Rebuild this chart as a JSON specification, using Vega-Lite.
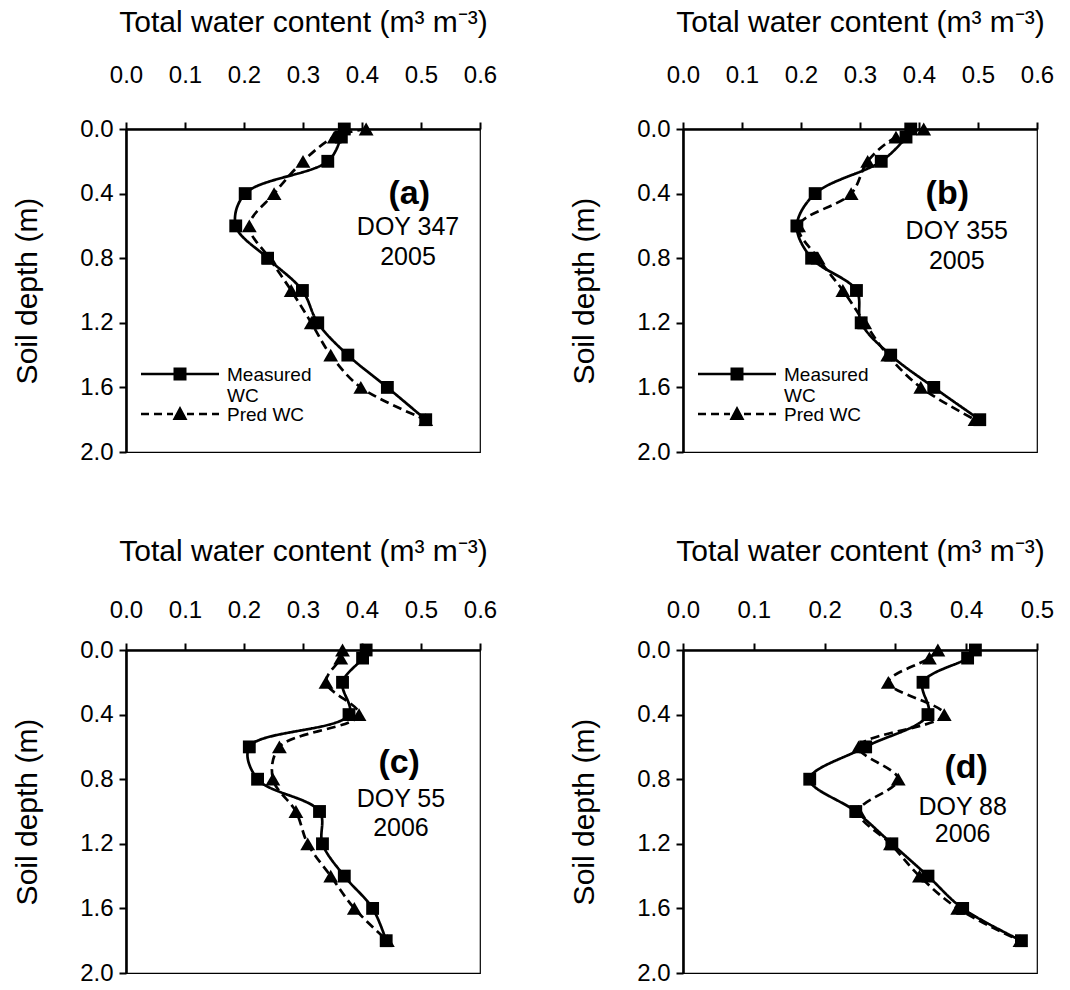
{
  "$schema": "https://vega.github.io/schema/vega-lite/v6.json",
  "background": "white",
  "padding": {"left": 12, "top": 6, "right": 0, "bottom": 0},
  "datasets": {
    "wc": [
      {"panel": "a", "series": "Measured WC", "depth": 0.0, "wc": 0.37},
      {"panel": "a", "series": "Measured WC", "depth": 0.05, "wc": 0.365},
      {"panel": "a", "series": "Measured WC", "depth": 0.2, "wc": 0.342},
      {"panel": "a", "series": "Measured WC", "depth": 0.4, "wc": 0.202},
      {"panel": "a", "series": "Measured WC", "depth": 0.6, "wc": 0.186},
      {"panel": "a", "series": "Measured WC", "depth": 0.8, "wc": 0.24},
      {"panel": "a", "series": "Measured WC", "depth": 1.0, "wc": 0.299},
      {"panel": "a", "series": "Measured WC", "depth": 1.2, "wc": 0.325},
      {"panel": "a", "series": "Measured WC", "depth": 1.4, "wc": 0.376},
      {"panel": "a", "series": "Measured WC", "depth": 1.6, "wc": 0.443},
      {"panel": "a", "series": "Measured WC", "depth": 1.8, "wc": 0.508},
      {"panel": "a", "series": "Pred WC", "depth": 0.0, "wc": 0.407},
      {"panel": "a", "series": "Pred WC", "depth": 0.05, "wc": 0.353},
      {"panel": "a", "series": "Pred WC", "depth": 0.2, "wc": 0.3},
      {"panel": "a", "series": "Pred WC", "depth": 0.4, "wc": 0.251},
      {"panel": "a", "series": "Pred WC", "depth": 0.6, "wc": 0.209},
      {"panel": "a", "series": "Pred WC", "depth": 0.8, "wc": 0.243},
      {"panel": "a", "series": "Pred WC", "depth": 1.0, "wc": 0.28},
      {"panel": "a", "series": "Pred WC", "depth": 1.2, "wc": 0.314},
      {"panel": "a", "series": "Pred WC", "depth": 1.4, "wc": 0.347},
      {"panel": "a", "series": "Pred WC", "depth": 1.6, "wc": 0.398},
      {"panel": "a", "series": "Pred WC", "depth": 1.8, "wc": 0.508},
      {"panel": "b", "series": "Measured WC", "depth": 0.0, "wc": 0.386},
      {"panel": "b", "series": "Measured WC", "depth": 0.05, "wc": 0.378},
      {"panel": "b", "series": "Measured WC", "depth": 0.2, "wc": 0.336},
      {"panel": "b", "series": "Measured WC", "depth": 0.4, "wc": 0.224},
      {"panel": "b", "series": "Measured WC", "depth": 0.6, "wc": 0.193},
      {"panel": "b", "series": "Measured WC", "depth": 0.8, "wc": 0.218},
      {"panel": "b", "series": "Measured WC", "depth": 1.0, "wc": 0.294},
      {"panel": "b", "series": "Measured WC", "depth": 1.2, "wc": 0.302},
      {"panel": "b", "series": "Measured WC", "depth": 1.4, "wc": 0.352},
      {"panel": "b", "series": "Measured WC", "depth": 1.6, "wc": 0.425},
      {"panel": "b", "series": "Measured WC", "depth": 1.8, "wc": 0.503},
      {"panel": "b", "series": "Pred WC", "depth": 0.0, "wc": 0.408},
      {"panel": "b", "series": "Pred WC", "depth": 0.05, "wc": 0.361},
      {"panel": "b", "series": "Pred WC", "depth": 0.2, "wc": 0.313},
      {"panel": "b", "series": "Pred WC", "depth": 0.4, "wc": 0.285},
      {"panel": "b", "series": "Pred WC", "depth": 0.6, "wc": 0.196},
      {"panel": "b", "series": "Pred WC", "depth": 0.8, "wc": 0.229},
      {"panel": "b", "series": "Pred WC", "depth": 1.0, "wc": 0.271},
      {"panel": "b", "series": "Pred WC", "depth": 1.2, "wc": 0.308},
      {"panel": "b", "series": "Pred WC", "depth": 1.4, "wc": 0.347},
      {"panel": "b", "series": "Pred WC", "depth": 1.6, "wc": 0.403},
      {"panel": "b", "series": "Pred WC", "depth": 1.8, "wc": 0.495},
      {"panel": "c", "series": "Measured WC", "depth": 0.0, "wc": 0.407},
      {"panel": "c", "series": "Measured WC", "depth": 0.05, "wc": 0.401},
      {"panel": "c", "series": "Measured WC", "depth": 0.2, "wc": 0.367},
      {"panel": "c", "series": "Measured WC", "depth": 0.4, "wc": 0.378},
      {"panel": "c", "series": "Measured WC", "depth": 0.6, "wc": 0.209},
      {"panel": "c", "series": "Measured WC", "depth": 0.8, "wc": 0.223},
      {"panel": "c", "series": "Measured WC", "depth": 1.0, "wc": 0.328},
      {"panel": "c", "series": "Measured WC", "depth": 1.2, "wc": 0.333},
      {"panel": "c", "series": "Measured WC", "depth": 1.4, "wc": 0.37},
      {"panel": "c", "series": "Measured WC", "depth": 1.6, "wc": 0.418},
      {"panel": "c", "series": "Measured WC", "depth": 1.8, "wc": 0.441},
      {"panel": "c", "series": "Pred WC", "depth": 0.0, "wc": 0.367},
      {"panel": "c", "series": "Pred WC", "depth": 0.05, "wc": 0.364},
      {"panel": "c", "series": "Pred WC", "depth": 0.2, "wc": 0.339},
      {"panel": "c", "series": "Pred WC", "depth": 0.4, "wc": 0.395},
      {"panel": "c", "series": "Pred WC", "depth": 0.6, "wc": 0.26},
      {"panel": "c", "series": "Pred WC", "depth": 0.8, "wc": 0.249},
      {"panel": "c", "series": "Pred WC", "depth": 1.0, "wc": 0.288},
      {"panel": "c", "series": "Pred WC", "depth": 1.2, "wc": 0.308},
      {"panel": "c", "series": "Pred WC", "depth": 1.4, "wc": 0.347},
      {"panel": "c", "series": "Pred WC", "depth": 1.6, "wc": 0.387},
      {"panel": "c", "series": "Pred WC", "depth": 1.8, "wc": 0.443},
      {"panel": "d", "series": "Measured WC", "depth": 0.0, "wc": 0.413},
      {"panel": "d", "series": "Measured WC", "depth": 0.05, "wc": 0.402},
      {"panel": "d", "series": "Measured WC", "depth": 0.2, "wc": 0.339},
      {"panel": "d", "series": "Measured WC", "depth": 0.4, "wc": 0.346},
      {"panel": "d", "series": "Measured WC", "depth": 0.6, "wc": 0.258},
      {"panel": "d", "series": "Measured WC", "depth": 0.8, "wc": 0.179},
      {"panel": "d", "series": "Measured WC", "depth": 1.0, "wc": 0.244},
      {"panel": "d", "series": "Measured WC", "depth": 1.2, "wc": 0.295},
      {"panel": "d", "series": "Measured WC", "depth": 1.4, "wc": 0.346},
      {"panel": "d", "series": "Measured WC", "depth": 1.6, "wc": 0.395},
      {"panel": "d", "series": "Measured WC", "depth": 1.8, "wc": 0.478},
      {"panel": "d", "series": "Pred WC", "depth": 0.0, "wc": 0.36},
      {"panel": "d", "series": "Pred WC", "depth": 0.05, "wc": 0.348},
      {"panel": "d", "series": "Pred WC", "depth": 0.2, "wc": 0.29},
      {"panel": "d", "series": "Pred WC", "depth": 0.4, "wc": 0.369},
      {"panel": "d", "series": "Pred WC", "depth": 0.6, "wc": 0.248},
      {"panel": "d", "series": "Pred WC", "depth": 0.8, "wc": 0.304},
      {"panel": "d", "series": "Pred WC", "depth": 1.0, "wc": 0.248},
      {"panel": "d", "series": "Pred WC", "depth": 1.2, "wc": 0.293},
      {"panel": "d", "series": "Pred WC", "depth": 1.4, "wc": 0.334},
      {"panel": "d", "series": "Pred WC", "depth": 1.6, "wc": 0.388},
      {"panel": "d", "series": "Pred WC", "depth": 1.8, "wc": 0.476}
    ]
  },
  "config": {
    "font": "Liberation Sans",
    "view": {"stroke": "black", "strokeWidth": 1.2},
    "axis": {
      "grid": false,
      "labelFlush": false,
      "labelOverlap": false,
      "domainColor": "black",
      "domainWidth": 2.6,
      "tickColor": "black",
      "tickWidth": 2,
      "tickSize": 7,
      "labelFont": "Liberation Sans",
      "labelFontSize": 24,
      "labelColor": "black",
      "titleFont": "Liberation Sans",
      "titleFontSize": 30,
      "titleFontWeight": "normal",
      "titleColor": "black"
    },
    "text": {"font": "Liberation Sans", "color": "black"}
  },
  "columns": 2,
  "spacing": {"column": 71, "row": 70},
  "resolve": {"scale": {"shape": "independent"}, "legend": {"shape": "independent"}},
  "concat": [
    {
      "width": 354, "height": 323,
      "data": {"name": "wc"},
      "transform": [{"filter": "datum.panel == 'a'"}],
      "layer": [
        {
          "mark": {"type": "line", "interpolate": "catmull-rom", "color": "black", "strokeWidth": 2.7},
          "encoding": {
            "x": {"field": "wc", "type": "quantitative", "scale": {"domain": [0, 0.6], "nice": false},
              "axis": {"orient": "top", "values": [0, 0.1, 0.2, 0.3, 0.4, 0.5, 0.6], "format": ".1f", "title": "Total water content (m³ m⁻³)", "labelPadding": 35, "titlePadding": 26}},
            "y": {"field": "depth", "type": "quantitative", "scale": {"domain": [0, 2], "reverse": true, "nice": false},
              "axis": {"values": [0, 0.4, 0.8, 1.2, 1.6, 2.0], "format": ".1f", "title": "Soil depth (m)", "labelPadding": 6, "titlePadding": 37}},
            "strokeDash": {"field": "series", "type": "nominal", "scale": {"domain": ["Measured WC", "Pred WC"], "range": [[1, 0], [9, 5]]}, "legend": null},
            "order": {"field": "depth", "type": "quantitative"}
          }
        },
        {
          "transform": [{"filter": "datum.series == 'Measured WC'"}],
          "mark": {"type": "point", "shape": "square", "filled": true, "color": "black", "size": 165, "opacity": 1},
          "encoding": {"x": {"field": "wc", "type": "quantitative"}, "y": {"field": "depth", "type": "quantitative"}}
        },
        {
          "transform": [{"filter": "datum.series == 'Pred WC'"}],
          "mark": {"type": "point", "shape": "triangle-up", "filled": true, "color": "black", "size": 220, "opacity": 1},
          "encoding": {"x": {"field": "wc", "type": "quantitative"}, "y": {"field": "depth", "type": "quantitative"}}
        },
        {
          "transform": [{"filter": "datum.depth < 0"}],
          "mark": {"type": "point", "filled": true, "color": "black", "opacity": 1},
          "encoding": {
            "x": {"field": "wc", "type": "quantitative"},
            "y": {"field": "depth", "type": "quantitative"},
            "shape": {"field": "series", "type": "nominal",
              "scale": {"domain": ["Measured WC", "Pred WC"], "range": ["M-1,-0.82H6.8V-0.58H-1ZM2.25,-1.35H3.55V-0.05H2.25Z", "M-1,-0.82H-0.2V-0.58H-1ZM0.3,-0.82H1.1V-0.58H0.3ZM1.6,-0.82H2.2V-0.58H1.6ZM2.9,-1.5L3.65,-0.1H2.15ZM3.6,-0.82H4.3V-0.58H3.6ZM4.8,-0.82H5.6V-0.58H4.8ZM6.1,-0.82H6.8V-0.58H6.1Z"]},
              "legend": {"orient": "none", "legendX": 15, "legendY": 242, "title": null, "padding": 0, "symbolSize": 400, "symbolOpacity": 1, "symbolFillColor": "black", "symbolStrokeColor": "black", "symbolStrokeWidth": 0, "labelFont": "Liberation Sans", "labelFontSize": 19, "labelColor": "black", "labelOffset": 66, "labelBaseline": "alphabetic", "rowPadding": 0, "labelExpr": "datum.label == 'Measured WC' ? ['Measured', 'WC'] : datum.label"}}
          }
        },
        {"data": {"values": [{}]}, "mark": {"type": "text", "text": "(a)", "fontSize": 34, "fontWeight": "bold", "align": "center", "baseline": "middle"},
          "encoding": {"x": {"datum": 0.48, "type": "quantitative"}, "y": {"datum": 0.4, "type": "quantitative"}}},
        {"data": {"values": [{}]}, "mark": {"type": "text", "text": "DOY 347", "fontSize": 25, "align": "center", "baseline": "middle"},
          "encoding": {"x": {"datum": 0.478, "type": "quantitative"}, "y": {"datum": 0.605, "type": "quantitative"}}},
        {"data": {"values": [{}]}, "mark": {"type": "text", "text": "2005", "fontSize": 25, "align": "center", "baseline": "middle"},
          "encoding": {"x": {"datum": 0.478, "type": "quantitative"}, "y": {"datum": 0.79, "type": "quantitative"}}}
      ]
    },
    {
      "width": 354, "height": 323,
      "data": {"name": "wc"},
      "transform": [{"filter": "datum.panel == 'b'"}],
      "layer": [
        {
          "mark": {"type": "line", "interpolate": "catmull-rom", "color": "black", "strokeWidth": 2.7},
          "encoding": {
            "x": {"field": "wc", "type": "quantitative", "scale": {"domain": [0, 0.6], "nice": false},
              "axis": {"orient": "top", "values": [0, 0.1, 0.2, 0.3, 0.4, 0.5, 0.6], "format": ".1f", "title": "Total water content (m³ m⁻³)", "labelPadding": 35, "titlePadding": 26}},
            "y": {"field": "depth", "type": "quantitative", "scale": {"domain": [0, 2], "reverse": true, "nice": false},
              "axis": {"values": [0, 0.4, 0.8, 1.2, 1.6, 2.0], "format": ".1f", "title": "Soil depth (m)", "labelPadding": 6, "titlePadding": 37}},
            "strokeDash": {"field": "series", "type": "nominal", "scale": {"domain": ["Measured WC", "Pred WC"], "range": [[1, 0], [9, 5]]}, "legend": null},
            "order": {"field": "depth", "type": "quantitative"}
          }
        },
        {
          "transform": [{"filter": "datum.series == 'Measured WC'"}],
          "mark": {"type": "point", "shape": "square", "filled": true, "color": "black", "size": 165, "opacity": 1},
          "encoding": {"x": {"field": "wc", "type": "quantitative"}, "y": {"field": "depth", "type": "quantitative"}}
        },
        {
          "transform": [{"filter": "datum.series == 'Pred WC'"}],
          "mark": {"type": "point", "shape": "triangle-up", "filled": true, "color": "black", "size": 220, "opacity": 1},
          "encoding": {"x": {"field": "wc", "type": "quantitative"}, "y": {"field": "depth", "type": "quantitative"}}
        },
        {
          "transform": [{"filter": "datum.depth < 0"}],
          "mark": {"type": "point", "filled": true, "color": "black", "opacity": 1},
          "encoding": {
            "x": {"field": "wc", "type": "quantitative"},
            "y": {"field": "depth", "type": "quantitative"},
            "shape": {"field": "series", "type": "nominal",
              "scale": {"domain": ["Measured WC", "Pred WC"], "range": ["M-1,-0.82H6.8V-0.58H-1ZM2.25,-1.35H3.55V-0.05H2.25Z", "M-1,-0.82H-0.2V-0.58H-1ZM0.3,-0.82H1.1V-0.58H0.3ZM1.6,-0.82H2.2V-0.58H1.6ZM2.9,-1.5L3.65,-0.1H2.15ZM3.6,-0.82H4.3V-0.58H3.6ZM4.8,-0.82H5.6V-0.58H4.8ZM6.1,-0.82H6.8V-0.58H6.1Z"]},
              "legend": {"orient": "none", "legendX": 15, "legendY": 242, "title": null, "padding": 0, "symbolSize": 400, "symbolOpacity": 1, "symbolFillColor": "black", "symbolStrokeColor": "black", "symbolStrokeWidth": 0, "labelFont": "Liberation Sans", "labelFontSize": 19, "labelColor": "black", "labelOffset": 66, "labelBaseline": "alphabetic", "rowPadding": 0, "labelExpr": "datum.label == 'Measured WC' ? ['Measured', 'WC'] : datum.label"}}
          }
        },
        {"data": {"values": [{}]}, "mark": {"type": "text", "text": "(b)", "fontSize": 34, "fontWeight": "bold", "align": "center", "baseline": "middle"},
          "encoding": {"x": {"datum": 0.448, "type": "quantitative"}, "y": {"datum": 0.4, "type": "quantitative"}}},
        {"data": {"values": [{}]}, "mark": {"type": "text", "text": "DOY 355", "fontSize": 25, "align": "center", "baseline": "middle"},
          "encoding": {"x": {"datum": 0.464, "type": "quantitative"}, "y": {"datum": 0.63, "type": "quantitative"}}},
        {"data": {"values": [{}]}, "mark": {"type": "text", "text": "2005", "fontSize": 25, "align": "center", "baseline": "middle"},
          "encoding": {"x": {"datum": 0.464, "type": "quantitative"}, "y": {"datum": 0.815, "type": "quantitative"}}}
      ]
    },
    {
      "width": 354, "height": 323,
      "data": {"name": "wc"},
      "transform": [{"filter": "datum.panel == 'c'"}],
      "layer": [
        {
          "mark": {"type": "line", "interpolate": "catmull-rom", "color": "black", "strokeWidth": 2.7},
          "encoding": {
            "x": {"field": "wc", "type": "quantitative", "scale": {"domain": [0, 0.6], "nice": false},
              "axis": {"orient": "top", "values": [0, 0.1, 0.2, 0.3, 0.4, 0.5, 0.6], "format": ".1f", "title": "Total water content (m³ m⁻³)", "labelPadding": 21, "titlePadding": 32}},
            "y": {"field": "depth", "type": "quantitative", "scale": {"domain": [0, 2], "reverse": true, "nice": false},
              "axis": {"values": [0, 0.4, 0.8, 1.2, 1.6, 2.0], "format": ".1f", "title": "Soil depth (m)", "labelPadding": 6, "titlePadding": 37}},
            "strokeDash": {"field": "series", "type": "nominal", "scale": {"domain": ["Measured WC", "Pred WC"], "range": [[1, 0], [9, 5]]}, "legend": null},
            "order": {"field": "depth", "type": "quantitative"}
          }
        },
        {
          "transform": [{"filter": "datum.series == 'Measured WC'"}],
          "mark": {"type": "point", "shape": "square", "filled": true, "color": "black", "size": 165, "opacity": 1},
          "encoding": {"x": {"field": "wc", "type": "quantitative"}, "y": {"field": "depth", "type": "quantitative"}}
        },
        {
          "transform": [{"filter": "datum.series == 'Pred WC'"}],
          "mark": {"type": "point", "shape": "triangle-up", "filled": true, "color": "black", "size": 220, "opacity": 1},
          "encoding": {"x": {"field": "wc", "type": "quantitative"}, "y": {"field": "depth", "type": "quantitative"}}
        },
        {"data": {"values": [{}]}, "mark": {"type": "text", "text": "(c)", "fontSize": 34, "fontWeight": "bold", "align": "center", "baseline": "middle"},
          "encoding": {"x": {"datum": 0.463, "type": "quantitative"}, "y": {"datum": 0.7, "type": "quantitative"}}},
        {"data": {"values": [{}]}, "mark": {"type": "text", "text": "DOY 55", "fontSize": 25, "align": "center", "baseline": "middle"},
          "encoding": {"x": {"datum": 0.466, "type": "quantitative"}, "y": {"datum": 0.925, "type": "quantitative"}}},
        {"data": {"values": [{}]}, "mark": {"type": "text", "text": "2006", "fontSize": 25, "align": "center", "baseline": "middle"},
          "encoding": {"x": {"datum": 0.466, "type": "quantitative"}, "y": {"datum": 1.1, "type": "quantitative"}}}
      ]
    },
    {
      "width": 354, "height": 323,
      "data": {"name": "wc"},
      "transform": [{"filter": "datum.panel == 'd'"}],
      "layer": [
        {
          "mark": {"type": "line", "interpolate": "catmull-rom", "color": "black", "strokeWidth": 2.7},
          "encoding": {
            "x": {"field": "wc", "type": "quantitative", "scale": {"domain": [0, 0.5], "nice": false},
              "axis": {"orient": "top", "values": [0, 0.1, 0.2, 0.3, 0.4, 0.5], "format": ".1f", "title": "Total water content (m³ m⁻³)", "labelPadding": 21, "titlePadding": 32}},
            "y": {"field": "depth", "type": "quantitative", "scale": {"domain": [0, 2], "reverse": true, "nice": false},
              "axis": {"values": [0, 0.4, 0.8, 1.2, 1.6, 2.0], "format": ".1f", "title": "Soil depth (m)", "labelPadding": 6, "titlePadding": 37}},
            "strokeDash": {"field": "series", "type": "nominal", "scale": {"domain": ["Measured WC", "Pred WC"], "range": [[1, 0], [9, 5]]}, "legend": null},
            "order": {"field": "depth", "type": "quantitative"}
          }
        },
        {
          "transform": [{"filter": "datum.series == 'Measured WC'"}],
          "mark": {"type": "point", "shape": "square", "filled": true, "color": "black", "size": 165, "opacity": 1},
          "encoding": {"x": {"field": "wc", "type": "quantitative"}, "y": {"field": "depth", "type": "quantitative"}}
        },
        {
          "transform": [{"filter": "datum.series == 'Pred WC'"}],
          "mark": {"type": "point", "shape": "triangle-up", "filled": true, "color": "black", "size": 220, "opacity": 1},
          "encoding": {"x": {"field": "wc", "type": "quantitative"}, "y": {"field": "depth", "type": "quantitative"}}
        },
        {"data": {"values": [{}]}, "mark": {"type": "text", "text": "(d)", "fontSize": 34, "fontWeight": "bold", "align": "center", "baseline": "middle"},
          "encoding": {"x": {"datum": 0.4, "type": "quantitative"}, "y": {"datum": 0.73, "type": "quantitative"}}},
        {"data": {"values": [{}]}, "mark": {"type": "text", "text": "DOY 88", "fontSize": 25, "align": "center", "baseline": "middle"},
          "encoding": {"x": {"datum": 0.395, "type": "quantitative"}, "y": {"datum": 0.97, "type": "quantitative"}}},
        {"data": {"values": [{}]}, "mark": {"type": "text", "text": "2006", "fontSize": 25, "align": "center", "baseline": "middle"},
          "encoding": {"x": {"datum": 0.395, "type": "quantitative"}, "y": {"datum": 1.14, "type": "quantitative"}}}
      ]
    }
  ]
}
